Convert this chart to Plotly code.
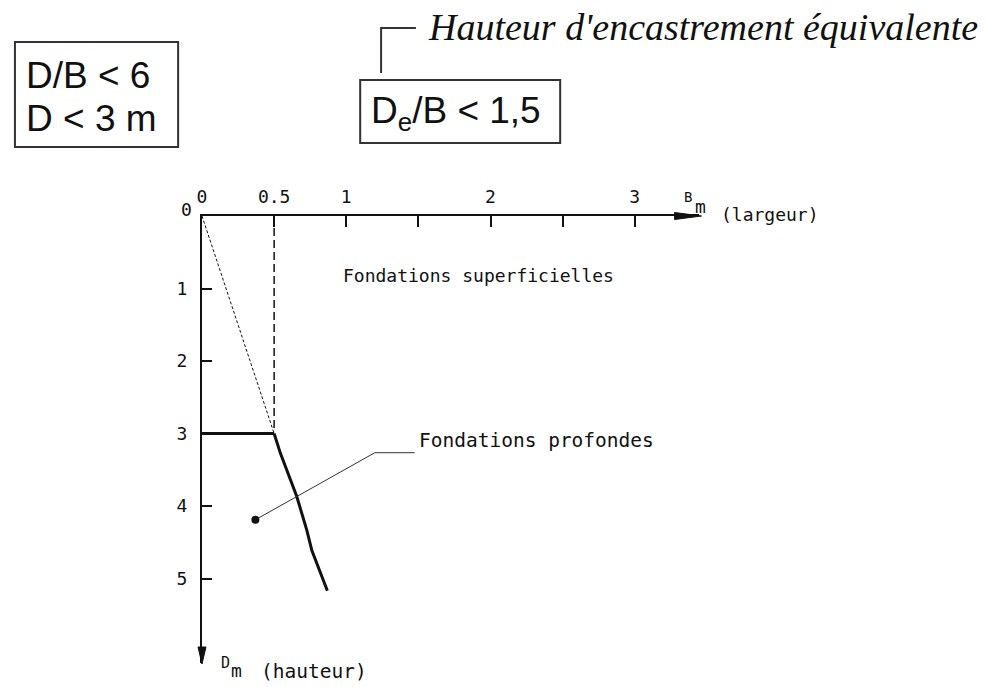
import plotly.graph_objects as go

# ---------------- data ----------------
x_tick_vals = [0, 0.5, 1, 2, 3]
x_tick_text = ["0", "0.5", "1", "2", "3"]
x_minor_ticks = [1.5, 2.5]
y_tick_vals = [1, 2, 3, 4, 5]
y_tick_text = ["1", "2", "3", "4", "5"]

# D/B = 6 limit (thin dotted)
ratio_B = [0, 0.5]
ratio_D = [0, 3]
# vertical dashed B = 0.5
vert_B = [0.5, 0.5]
vert_D = [0, 2.93]
# D = 3 m limit (thick)
depth_B = [0, 0.5]
depth_D = [3, 3]
# De/B boundary curve (thick)
curve_B = [0.5, 0.543, 0.657, 0.726, 0.761, 0.869]
curve_D = [3.0, 3.27, 3.87, 4.33, 4.61, 5.17]
# leader for "Fondations profondes"
leader_B = [0.37, 1.198, 1.474]
leader_D = [4.19, 3.265, 3.265]

W, H = 986, 687
X0, Y0 = 198, 216          # pixel origin
SX, SY = 145, 72.5         # px per unit
X_END, Y_END = 698, 663    # arrow tips

def px(x, y):
    return x / W, 1 - y / H

INK = "#111111"
CAD = "DejaVu Sans Mono"

fig = go.Figure()
fig.add_trace(go.Scatter(x=ratio_B, y=ratio_D, mode="lines",
                         line=dict(color=INK, width=1, dash="3px,2px")))
fig.add_trace(go.Scatter(x=vert_B, y=vert_D, mode="lines",
                         line=dict(color=INK, width=1.5, dash="8px,4px")))
fig.add_trace(go.Scatter(x=depth_B, y=depth_D, mode="lines",
                         line=dict(color=INK, width=3)))
fig.add_trace(go.Scatter(x=curve_B, y=curve_D, mode="lines",
                         line=dict(color=INK, width=3)))
fig.add_trace(go.Scatter(x=leader_B, y=leader_D, mode="lines",
                         line=dict(color="#333333", width=1)))
fig.add_trace(go.Scatter(x=leader_B[:1], y=leader_D[:1], mode="markers",
                         marker=dict(color=INK, size=8, symbol="circle")))

x_max = (X_END - X0) / SX
y_max = (Y_END - Y0) / SY

fig.update_layout(
    width=W, height=H, autosize=False,
    margin=dict(l=0, r=0, t=0, b=0),
    paper_bgcolor="white", plot_bgcolor="white",
    showlegend=False,
    xaxis=dict(domain=[X0 / W, X_END / W], range=[0, x_max], side="top",
               showgrid=False, zeroline=False, showline=True, linecolor=INK, linewidth=2,
               ticks="inside", ticklen=11, tickwidth=1.5, tickcolor=INK,
               tickvals=x_tick_vals, ticktext=x_tick_text,
               minor=dict(tickvals=x_minor_ticks, ticks="inside", ticklen=11,
                          tickwidth=1.5, tickcolor=INK, showgrid=False),
               tickfont=dict(family=CAD, size=18, color=INK), ticklabelstandoff=4,
               fixedrange=True),
    yaxis=dict(domain=[1 - Y_END / H, 1 - Y0 / H], range=[y_max, 0],
               showgrid=False, zeroline=False, showline=True, linecolor=INK, linewidth=2,
               ticks="inside", ticklen=10, tickwidth=1.5, tickcolor=INK,
               tickvals=y_tick_vals, ticktext=y_tick_text,
               tickfont=dict(family=CAD, size=18, color=INK), ticklabelstandoff=9,
               fixedrange=True),
)

shapes = []
# arrow heads
shapes.append(dict(type="path", xref="paper", yref="paper",
                   path="M {} {} L {} {} L {} {} Z".format(*px(673, 212.5), *px(700, 216), *px(673, 219.5)),
                   fillcolor=INK, line=dict(color=INK, width=1)))
shapes.append(dict(type="path", xref="paper", yref="paper",
                   path="M {} {} L {} {} L {} {} Z".format(*px(194, 647), *px(198, 664), *px(202, 647)),
                   fillcolor=INK, line=dict(color=INK, width=1)))
# box 1
bx0, by0 = px(10, 42); bx1, by1 = px(174, 147)
shapes.append(dict(type="rect", xref="paper", yref="paper", x0=bx0, y0=by1, x1=bx1, y1=by0,
                   line=dict(color="#333333", width=2)))
# box 2
bx0, by0 = px(357, 80); bx1, by1 = px(558, 143)
shapes.append(dict(type="rect", xref="paper", yref="paper", x0=bx0, y0=by1, x1=bx1, y1=by0,
                   line=dict(color="#333333", width=2)))
# leader to italic note
shapes.append(dict(type="path", xref="paper", yref="paper",
                   path="M {} {} L {} {} L {} {}".format(*px(378, 73), *px(378, 28), *px(413, 28)),
                   line=dict(color="#333333", width=2)))
fig.update_layout(shapes=shapes)

ann = []
def A(text, x, y, size, family, xanchor="left", yanchor="middle", xref="paper", yref="paper", align="left"):
    if xref == "paper":
        x, y = px(x, y)
    ann.append(dict(text=text, x=x, y=y, xref=xref, yref=yref, showarrow=False,
                    xanchor=xanchor, yanchor=yanchor, align=align,
                    font=dict(family=family, size=size, color=INK)))

A("D/B &lt; 6", 19, 75, 37, "Liberation Sans")
A("D &lt; 3 m", 19, 118, 37, "Liberation Sans")
A("D<sub>e</sub>/B &lt; 1,5", 366, 113, 37, "Liberation Sans")
A("<i>Hauteur d'encastrement équivalente</i>", 423, 27, 38, "Liberation Serif")
A("Fondations superficielles", 1.0 - 5 / SX, 0.82, 18, CAD, xref="x", yref="y")
A("Fondations profondes", 1.53 - 6 / SX, 3.09, 19.5, CAD, xref="x", yref="y")
A("0", 182, 209, 18, CAD, xanchor="center")
A("B", 680, 197, 14, CAD)
A("m", 692, 207, 18, CAD)
A("(largeur)", 718, 214, 18, CAD)
A("D", 215, 663, 15, CAD)
A("m", 225, 670, 18, CAD)
A("(hauteur)", 255, 671, 19.5, CAD)
fig.update_layout(annotations=ann)

fig.write_html("out.html", post_script="document.body.style.margin='0';",
               config={"displayModeBar": False})
